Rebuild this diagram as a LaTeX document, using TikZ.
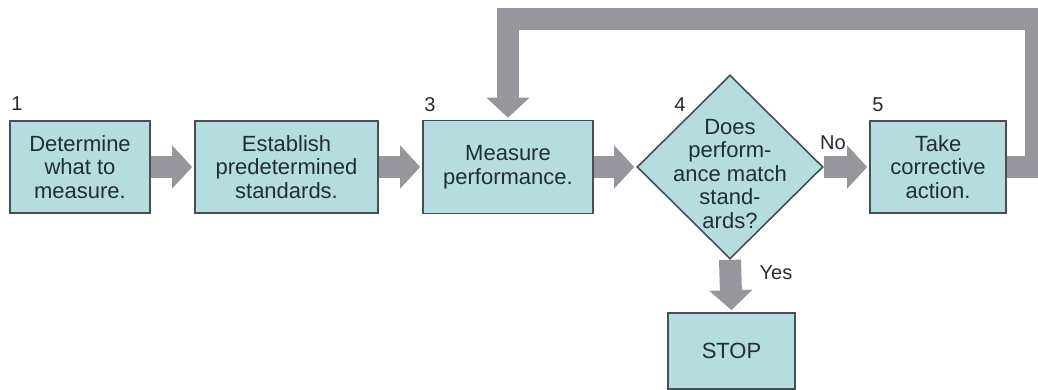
\documentclass[tikz,border=0pt]{standalone}
\usepackage{fontspec}
\setmainfont{Liberation Sans}
\usetikzlibrary{shapes.geometric,arrows.meta}
\definecolor{boxfill}{RGB}{181,221,224}
\definecolor{boxline}{RGB}{70,80,82}
\definecolor{flow}{RGB}{150,150,156}
\definecolor{ink}{RGB}{35,45,48}

\begin{document}
\begin{tikzpicture}[x=1pt,y=-1pt,
  stepbox/.style={draw=boxline, line width=1.6pt, fill=boxfill, text=ink,
    align=center, font=\fontsize{22}{23.5}\selectfont, inner sep=0pt},
  decision/.style={diamond, draw=boxline, line width=1.6pt, fill=boxfill,
    inner sep=0pt, minimum width=186pt, minimum height=184pt},
  flowarrow/.style={draw=flow, line width=22pt, line join=miter,
    -{Triangle[width=42pt,length=20pt]}, shorten >=2pt},
  num/.style={text=ink, font=\fontsize{20}{22}\selectfont, inner sep=0pt},
  ]
\clip (0,0) rectangle (1038,390);
\useasboundingbox (0,0) rectangle (1038,390);

% process steps
\node[stepbox, minimum width=140pt, minimum height=92pt] (b1) at (80,167)
  {Determine\\what to\\measure.};
\node[stepbox, minimum width=183pt, minimum height=92pt] (b2) at (286.5,167)
  {Establish\\predetermined\\standards.};
\node[stepbox, minimum width=170pt, minimum height=93pt] (b3) at (508,167)
  {Measure\\performance.};
\node[decision] (d4) at (730,167) {};
\node[text=ink, align=center, font=\fontsize{22}{23.5}\selectfont, inner sep=0pt]
  (q4) at (730,174) {Does\\perform-\\ance match\\stand-\\ards?};
\node[stepbox, minimum width=136pt, minimum height=92pt] (b5) at (938,167)
  {Take\\corrective\\action.};
\node[stepbox, minimum width=127pt, minimum height=76pt] (stop) at (731.5,351)
  {STOP};

% step numbers
\node[num] (n1) at (17,104) {1};
\node[num] (n3) at (430,105) {3};
\node[num] (n4) at (680,105) {4};
\node[num] (n5) at (878,105) {5};

% flow arrows
\draw[flowarrow] (b1.east) -- (b2.west);
\draw[flowarrow] (b2.east) -- (b3.west);
\draw[flowarrow] (b3.east) -- (d4.west);
\draw[flowarrow] (d4.east) -- (b5.west);
\draw[flowarrow] (d4.south) -- (stop.north);
\coordinate (fbr) at (1036,167);
\coordinate (fbt) at (1036,19);
\draw[flowarrow] (b5.east) -- (fbr) -- (fbt) -- (b3.north |- fbt) -- (b3.north);

% branch labels
\node[num] (no) at (833,143) {No};
\node[num] (yes) at (776,273) {Yes};
\end{tikzpicture}
\end{document}
